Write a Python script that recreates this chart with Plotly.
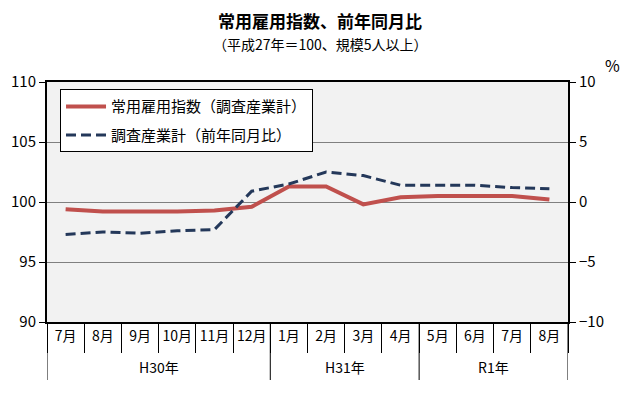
import plotly.graph_objects as go

years = ["H30年"] * 6 + ["H31年"] * 4 + ["R1年"] * 4
# the zero-width space keeps the second 7月/8月 distinct on the category axis
months = ["7月", "8月", "9月", "10月", "11月", "12月", "1月", "2月", "3月", "4月", "5月", "6月", "7月\u200b", "8月\u200b"]
index_values = [99.4, 99.2, 99.2, 99.2, 99.3, 99.6, 101.3, 101.3, 99.8, 100.4, 100.5, 100.5, 100.5, 100.2]
yoy_values = [-2.7, -2.5, -2.6, -2.4, -2.3, 0.9, 1.5, 2.5, 2.2, 1.4, 1.4, 1.4, 1.2, 1.1]

name_index = "常用雇用指数（調査産業計）"
name_yoy = "調査産業計（前年同月比）"

FONT = "Noto Sans CJK JP"

# page body has an 8px margin; compensate so the plot sits where the reference has it
OFF = 8
PL, PT, PW, PH = 47, 82, 521, 240  # plot area in page pixels

fig = go.Figure()
fig.add_trace(go.Scatter(
    x=months, y=index_values, name=name_index, mode="lines",
    legendgroup="a",
    line=dict(color="rgb(192,80,77)", width=4), yaxis="y"))
fig.add_trace(go.Scatter(
    x=months, y=yoy_values, name=name_yoy, mode="lines",
    legendgroup="b",
    line=dict(color="rgb(36,56,90)", width=3, dash="10px,5px"), yaxis="y2"))

fig.update_layout(
    width=638 - OFF, height=407 - OFF,
    margin=dict(l=PL - OFF, r=638 - PL - PW, t=PT - OFF, b=407 - PT - PH, autoexpand=False),
    paper_bgcolor="white", plot_bgcolor="#f2f2f2",
    font=dict(family=FONT, size=14, color="black"),
    showlegend=True,
    legend=dict(x=0.025, y=0.97, xanchor="left", yanchor="top",
                bgcolor="white", bordercolor="black", borderwidth=1,
                font=dict(size=15), tracegroupgap=6, traceorder="grouped",
                itemwidth=40),
    xaxis=dict(type="category", range=[-0.5, len(months) - 0.5], automargin=False,
               showline=True, linecolor="black", linewidth=2, tickangle=0,
               mirror=True, ticks="outside", tickson="boundaries", ticklen=29,
               tickcolor="black", tickwidth=1, showgrid=False,
               tickfont=dict(size=14)),
    yaxis=dict(range=[90, 110], dtick=5, automargin=False,
               showline=True, linecolor="black", linewidth=2,
               ticks="outside", ticklen=6, tickcolor="black", showgrid=True,
               gridcolor="#808080", gridwidth=1, zeroline=False,
               tickfont=dict(size=15)),
    yaxis2=dict(range=[-10, 10], dtick=5, overlaying="y", side="right", automargin=False,
                showline=True, linecolor="black", linewidth=2,
                ticks="outside", ticklen=6, tickcolor="black", showgrid=False,
                zeroline=False, tickfont=dict(size=15)),
)


def px(xp):
    return (xp - PL) / PW


def py(yp):
    return 1 - (yp - PT) / PH


fig.add_annotation(text="<b>常用雇用指数、前年同月比</b>", xref="paper", yref="paper",
                   x=px(320), y=py(20), xanchor="center", yanchor="middle", showarrow=False,
                   font=dict(size=17, family=FONT))
fig.add_annotation(text="（平成27年＝100、規模5人以上）", xref="paper", yref="paper",
                   x=px(320), y=py(44), xanchor="center", yanchor="middle", showarrow=False,
                   font=dict(size=14, family=FONT))
fig.add_annotation(text="%", xref="paper", yref="paper",
                   x=px(612), y=py(65), xanchor="center", yanchor="middle", showarrow=False,
                   font=dict(size=16, family=FONT))

# year groups: labels centred under their months, dividers at group boundaries
groups = []
for i, yname in enumerate(years):
    if not groups or groups[-1][0] != yname:
        groups.append([yname, i, i])
    else:
        groups[-1][2] = i

bounds = sorted({g[1] - 0.5 for g in groups} | {g[2] + 0.5 for g in groups})
for b in bounds:
    fig.add_shape(type="line", xref="x", yref="paper", x0=b, x1=b,
                  y0=0, y1=py(380), line=dict(color="black", width=1))
for yname, i0, i1 in groups:
    fig.add_annotation(text=yname, xref="x", yref="paper", x=(i0 + i1) / 2, y=py(367),
                       xanchor="center", yanchor="middle", showarrow=False,
                       font=dict(size=14, family=FONT))

fig.write_html("out.html")
